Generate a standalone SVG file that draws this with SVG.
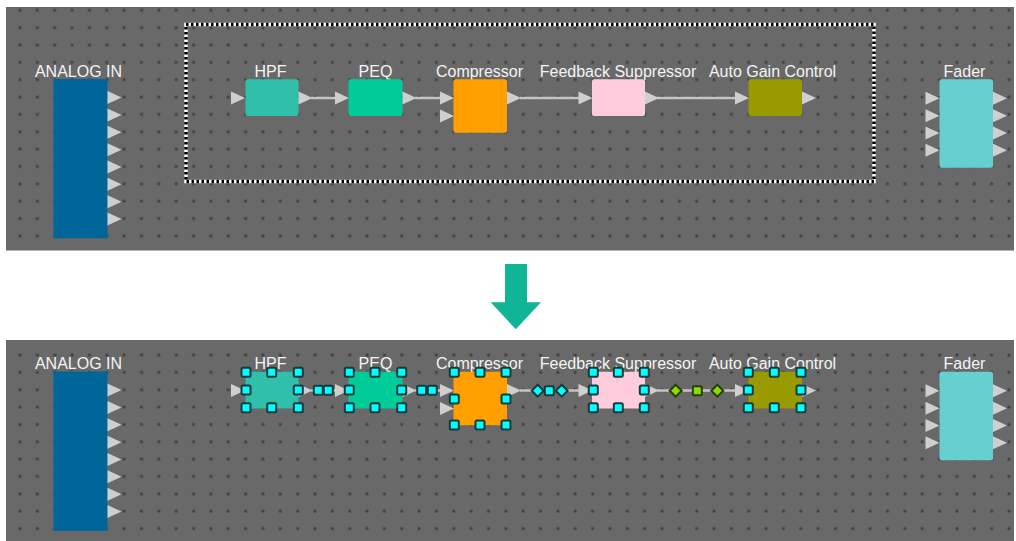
<svg xmlns="http://www.w3.org/2000/svg" xmlns:xlink="http://www.w3.org/1999/xlink" width="1016" height="541" viewBox="0 0 1016 541">
<style>
.panel{fill:#696969}
.lbl{font-family:"Liberation Sans",Arial,sans-serif;font-size:16px;fill:#f4f4f4;text-anchor:middle}
.port{fill:#cfcfcf}
.wire{stroke:#c4c4c4;stroke-width:2.5;fill:none}
.hd{fill:#00ffff;stroke:#15393a;stroke-width:2}
.hg{fill:#88dd00;stroke:#2a3a10;stroke-width:2}
</style>
<defs>
<pattern id="gt" patternUnits="userSpaceOnUse" x="11.33" y="1.63" width="17.35" height="17.35">
<rect x="7.3" y="7.3" width="2.8" height="2.8" fill="#404040"/>
</pattern>
<pattern id="gb" patternUnits="userSpaceOnUse" x="11.33" y="346.33" width="17.35" height="17.35">
<rect x="7.3" y="7.3" width="2.8" height="2.8" fill="#404040"/>
</pattern>
<path id="tri" d="M0,-6.5 L14,0 L0,6.5Z" class="port"/>
<rect id="h" x="-4.5" y="-4.5" width="9" height="9" rx="1.5" class="hd"/>
<path id="dm" d="M0,-6 L6,0 L0,6 L-6,0Z" class="hd"/>
<path id="dg" d="M0,-6 L6,0 L0,6 L-6,0Z" class="hg"/>
<rect id="sg" x="-4.5" y="-4.5" width="9" height="9" rx="1.5" class="hg"/>
</defs>

<!-- top panel -->
<rect class="panel" x="6" y="7" width="1008" height="243.5"/>
<rect x="6" y="7" width="1008" height="243.5" fill="url(#gt)"/>
<!-- bottom panel -->
<rect class="panel" x="6" y="340" width="1008" height="201"/>
<rect x="6" y="340" width="1008" height="201" fill="url(#gb)"/>

<!-- selection rectangle -->
<g id="selection">
<rect x="186" y="24.5" width="688" height="157" fill="none" stroke="#ffffff" stroke-width="3.5"/>
<rect x="186" y="24.5" width="688" height="157" fill="none" stroke="#000000" stroke-width="3.5" stroke-dasharray="2.5 2.5"/>
</g>

<!-- big arrow -->
<g id="arrow">
<path d="M505,264 H527 V302.3 H541 L515.8,329.3 L490.7,302.3 H505Z" fill="#10b597"/>
</g>

<!-- ===== TOP PANEL ===== -->
<g id="top-connectors">
<line class="wire" x1="311" y1="98" x2="336" y2="98"/>
<line class="wire" x1="415" y1="98" x2="441" y2="98"/>
<line class="wire" x1="520" y1="98" x2="579" y2="98"/>
<line class="wire" x1="657" y1="98" x2="736" y2="98"/>
</g>

<g id="top-analog-in">
<text class="lbl" x="78.5" y="76.5">ANALOG IN</text>
<rect x="53.5" y="79" width="54" height="159.3" fill="#006699"/>
<use xlink:href="#tri" x="107.5" y="97.6"/>
<use xlink:href="#tri" x="107.5" y="114.95"/>
<use xlink:href="#tri" x="107.5" y="132.3"/>
<use xlink:href="#tri" x="107.5" y="149.65"/>
<use xlink:href="#tri" x="107.5" y="167"/>
<use xlink:href="#tri" x="107.5" y="184.35"/>
<use xlink:href="#tri" x="107.5" y="201.7"/>
<use xlink:href="#tri" x="107.5" y="219.05"/>
</g>

<g id="top-hpf">
<text class="lbl" x="270.5" y="76.5">HPF</text>
<rect x="245.5" y="79.3" width="53" height="36.7" rx="2" fill="#2fbfab"/>
<use xlink:href="#tri" x="231" y="98"/>
<use xlink:href="#tri" x="298.5" y="98"/>
</g>

<g id="top-peq">
<text class="lbl" x="375.5" y="76.5">PEQ</text>
<rect x="348.5" y="79.3" width="54" height="36.7" rx="2" fill="#00cc99"/>
<use xlink:href="#tri" x="335" y="98"/>
<use xlink:href="#tri" x="402.5" y="98"/>
</g>

<g id="top-compressor">
<text class="lbl" x="479.5" y="76.5">Compressor</text>
<rect x="453.5" y="79.3" width="53.5" height="53.5" rx="2" fill="#ff9f00"/>
<use xlink:href="#tri" x="440" y="98"/>
<use xlink:href="#tri" x="440" y="116"/>
<use xlink:href="#tri" x="507" y="98"/>
</g>

<g id="top-feedback-suppressor">
<text class="lbl" x="618" y="76.5">Feedback Suppressor</text>
<rect x="592" y="79.3" width="53" height="36.7" rx="2" fill="#ffccdd"/>
<use xlink:href="#tri" x="578.5" y="98"/>
<use xlink:href="#tri" x="645" y="98"/>
</g>

<g id="top-auto-gain-control">
<text class="lbl" x="772.5" y="76.5">Auto Gain Control</text>
<rect x="748.5" y="79.3" width="53.5" height="36.7" rx="2" fill="#999900"/>
<use xlink:href="#tri" x="735" y="98"/>
<use xlink:href="#tri" x="802" y="98"/>
</g>

<g id="top-fader">
<text class="lbl" x="964.5" y="76.5">Fader</text>
<rect x="939.5" y="79.3" width="53.5" height="88.5" rx="2" fill="#66cfd0"/>
<use xlink:href="#tri" x="925.5" y="98.3"/>
<use xlink:href="#tri" x="925.5" y="115.65"/>
<use xlink:href="#tri" x="925.5" y="133"/>
<use xlink:href="#tri" x="925.5" y="150.35"/>
<use xlink:href="#tri" x="993" y="98.3"/>
<use xlink:href="#tri" x="993" y="115.65"/>
<use xlink:href="#tri" x="993" y="133"/>
<use xlink:href="#tri" x="993" y="150.35"/>
</g>

<!-- ===== BOTTOM PANEL ===== -->
<g transform="translate(0,292.5)">
<g id="bottom-connectors">
<line class="wire" x1="311" y1="98" x2="336" y2="98"/>
<line class="wire" x1="415" y1="98" x2="441" y2="98"/>
<line class="wire" x1="520" y1="98" x2="579" y2="98"/>
<line class="wire" x1="657" y1="98" x2="736" y2="98"/>
</g>

<g id="bottom-analog-in">
<text class="lbl" x="78.5" y="76.5">ANALOG IN</text>
<rect x="53.5" y="79" width="54" height="159.3" fill="#006699"/>
<use xlink:href="#tri" x="107.5" y="97.6"/>
<use xlink:href="#tri" x="107.5" y="114.95"/>
<use xlink:href="#tri" x="107.5" y="132.3"/>
<use xlink:href="#tri" x="107.5" y="149.65"/>
<use xlink:href="#tri" x="107.5" y="167"/>
<use xlink:href="#tri" x="107.5" y="184.35"/>
<use xlink:href="#tri" x="107.5" y="201.7"/>
<use xlink:href="#tri" x="107.5" y="219.05"/>
</g>

<g id="bottom-hpf">
<text class="lbl" x="270.5" y="76.5">HPF</text>
<rect x="245.5" y="79.3" width="53" height="36.7" rx="2" fill="#2fbfab"/>
<use xlink:href="#tri" x="231" y="98"/>
<use xlink:href="#tri" x="298.5" y="98"/>
<use xlink:href="#h" x="246" y="79.8"/><use xlink:href="#h" x="271.7" y="79.8"/><use xlink:href="#h" x="298.3" y="79.8"/>
<use xlink:href="#h" x="246" y="97.5"/><use xlink:href="#h" x="298.3" y="97.5"/>
<use xlink:href="#h" x="246" y="115.2"/><use xlink:href="#h" x="271.7" y="115.2"/><use xlink:href="#h" x="298.3" y="115.2"/>
</g>

<g id="bottom-peq">
<text class="lbl" x="375.5" y="76.5">PEQ</text>
<rect x="348.5" y="79.3" width="54" height="36.7" rx="2" fill="#00cc99"/>
<use xlink:href="#tri" x="335" y="98"/>
<use xlink:href="#tri" x="402.5" y="98"/>
<use xlink:href="#h" x="349.3" y="79.8"/><use xlink:href="#h" x="375" y="79.8"/><use xlink:href="#h" x="401.7" y="79.8"/>
<use xlink:href="#h" x="349.3" y="97.5"/><use xlink:href="#h" x="401.7" y="97.5"/>
<use xlink:href="#h" x="349.3" y="115.2"/><use xlink:href="#h" x="375" y="115.2"/><use xlink:href="#h" x="401.7" y="115.2"/>
</g>

<g id="bottom-compressor">
<text class="lbl" x="479.5" y="76.5">Compressor</text>
<rect x="453.5" y="79.3" width="53.5" height="53.5" rx="2" fill="#ff9f00"/>
<use xlink:href="#tri" x="440" y="98"/>
<use xlink:href="#tri" x="440" y="116"/>
<use xlink:href="#tri" x="507" y="98"/>
<use xlink:href="#h" x="454.3" y="79.8"/><use xlink:href="#h" x="480" y="79.8"/><use xlink:href="#h" x="506" y="79.8"/>
<use xlink:href="#h" x="454.3" y="106.5"/><use xlink:href="#h" x="506" y="106.5"/>
<use xlink:href="#h" x="454.3" y="132.5"/><use xlink:href="#h" x="480" y="132.5"/><use xlink:href="#h" x="506" y="132.5"/>
</g>

<g id="bottom-feedback-suppressor">
<text class="lbl" x="618" y="76.5">Feedback Suppressor</text>
<rect x="592" y="79.3" width="53" height="36.7" rx="2" fill="#ffccdd"/>
<use xlink:href="#tri" x="578.5" y="98"/>
<use xlink:href="#tri" x="645" y="98"/>
<use xlink:href="#h" x="593.3" y="79.8"/><use xlink:href="#h" x="618.3" y="79.8"/><use xlink:href="#h" x="644.3" y="79.8"/>
<use xlink:href="#h" x="593.3" y="97.5"/><use xlink:href="#h" x="644.3" y="97.5"/>
<use xlink:href="#h" x="593.3" y="115.2"/><use xlink:href="#h" x="618.3" y="115.2"/><use xlink:href="#h" x="644.3" y="115.2"/>
</g>

<g id="bottom-auto-gain-control">
<text class="lbl" x="772.5" y="76.5">Auto Gain Control</text>
<rect x="748.5" y="79.3" width="53.5" height="36.7" rx="2" fill="#999900"/>
<use xlink:href="#tri" x="735" y="98"/>
<use xlink:href="#tri" x="802" y="98"/>
<use xlink:href="#h" x="748.3" y="79.8"/><use xlink:href="#h" x="774.3" y="79.8"/><use xlink:href="#h" x="801" y="79.8"/>
<use xlink:href="#h" x="748.3" y="97.5"/><use xlink:href="#h" x="801" y="97.5"/>
<use xlink:href="#h" x="748.3" y="115.2"/><use xlink:href="#h" x="774.3" y="115.2"/><use xlink:href="#h" x="801" y="115.2"/>
</g>

<g id="bottom-fader">
<text class="lbl" x="964.5" y="76.5">Fader</text>
<rect x="939.5" y="79.3" width="53.5" height="88.5" rx="2" fill="#66cfd0"/>
<use xlink:href="#tri" x="925.5" y="98.3"/>
<use xlink:href="#tri" x="925.5" y="115.65"/>
<use xlink:href="#tri" x="925.5" y="133"/>
<use xlink:href="#tri" x="925.5" y="150.35"/>
<use xlink:href="#tri" x="993" y="98.3"/>
<use xlink:href="#tri" x="993" y="115.65"/>
<use xlink:href="#tri" x="993" y="133"/>
<use xlink:href="#tri" x="993" y="150.35"/>
</g>

<g id="bottom-wire-handles">
<use xlink:href="#h" x="318.3" y="97.7"/><use xlink:href="#h" x="328.3" y="97.7"/>
<use xlink:href="#h" x="421.7" y="97.7"/><use xlink:href="#h" x="432.3" y="97.7"/>
<use xlink:href="#dm" x="537.7" y="98.2"/><use xlink:href="#h" x="549.3" y="98.2"/><use xlink:href="#dm" x="561.7" y="98.2"/>
<use xlink:href="#dg" x="675.7" y="98.2"/><use xlink:href="#sg" x="697.3" y="98.2"/><use xlink:href="#dg" x="717.3" y="98.2"/>
</g>
</g>
</svg>
